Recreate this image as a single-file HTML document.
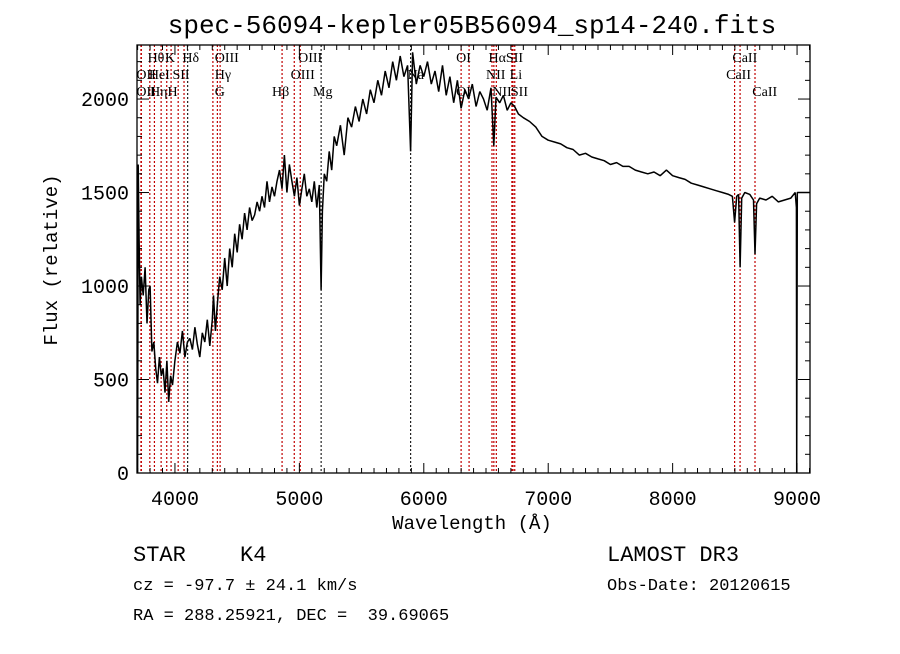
<!DOCTYPE html>
<html><head><meta charset="utf-8"><style>
body{margin:0;background:#fff;}
svg text{font-family:"Liberation Serif",serif;fill:#000;}
.mono{font-family:"Liberation Mono",monospace !important;}
</style></head><body>
<svg id="c" width="900" height="649" xmlns="http://www.w3.org/2000/svg">
<text class="mono" x="472" y="33" text-anchor="middle" font-size="26">spec-56094-kepler05B56094_sp14-240.fits</text>
<text class="mono" x="472" y="529" text-anchor="middle" font-size="19">Wavelength (Å)</text>
<text class="mono" x="57" y="260" text-anchor="middle" font-size="19" transform="rotate(-90 57 260)">Flux (relative)</text>
<text class="mono" x="133" y="561" font-size="22">STAR</text>
<text class="mono" x="240" y="561" font-size="22">K4</text>
<text class="mono" x="133" y="590" font-size="17">cz = -97.7 ± 24.1 km/s</text>
<text class="mono" x="133" y="620" font-size="17">RA = 288.25921, DEC =&#160; 39.69065</text>
<text class="mono" x="607" y="561" font-size="22">LAMOST DR3</text>
<text class="mono" x="607" y="590" font-size="17">Obs-Date: 20120615</text>
<g id="lines"></g><g id="spec"></g><g id="axes"></g>
</svg>
<script>
const xTicks=[4000,5000,6000,7000,8000,9000];
const yTicks=[0,500,1000,1500,2000];
const lineWaves=[3727,3730,3798,3835,3889,3934,3969,4026,4073,4102,4305,4341,4363,4861,4959,5007,5175,5894,6300,6364,6548,6563,6583,6708,6717,6731,8498,8542,8662];
const lineBlack=[0,0,0,0,0,0,0,0,0,1,0,0,0,0,0,0,1,1,0,0,0,0,0,0,0,0,0,0,0];
const labelText=["Hθ","K","Hδ","OIII","OIII","OI","HαSII","CaII","OII","HeI","SII","Hγ","OIII","Na","NII","Li","CaII","OII","Hη","H","G","Hβ","Mg","OI","NII","SII","CaII"];
const labelWave=[3780,3920,4060,4320,4990,6260,6520,8480,3690,3790,3980,4320,4930,5870,6500,6690,8430,3690,3800,3940,4320,4780,5110,6260,6550,6700,8640];
const labelRow=[0,0,0,0,0,0,0,0,1,1,1,1,1,1,1,1,1,2,2,2,2,2,2,2,2,2,2];
const wavesBlue=[3700,3705,3712,3720,3730,3745,3760,3775,3790,3800,
3815,3830,3845,3860,3875,3890,3905,3920,3935,3950,
3965,3980,4000,4020,4040,4060,4080,4100,4120,4140,
4160,4180,4200,4220,4240,4260,4280,4300,4310,4325,
4340,4360,4380,4400,4420,4440,4460,4480,4500,4520,
4540,4560,4580,4600,4620,4640,4660,4680,4700,4720,
4740,4760,4780,4800,4820,4840,4860,4880,4900,4920,
4940,4960,4980,5000,5020,5040,5060,5080,5100,5120,
5140,5160,5175,5185,5200,5220,5240,5260,5280,5300,
5330,5360,5390,5420,5450,5480,5510,5540,5570,5600,
5630,5660,5690,5720,5750,5780,5810,5840,5870,5894,
5910,5940,5970,6000,6030,6060,6090,6120,6150,6180,
6210,6240,6270,6300,6330,6360,6390,6420,6450,6480,
6510,6540,6563,6580,6610,6640,6670,6700,6730,6760];
const fluxBlue=[0,1650,1250,900,1050,950,1100,800,980,1000,
650,700,560,480,620,520,560,430,600,380,
520,470,600,700,640,760,620,700,720,660,
780,690,620,750,700,820,680,820,950,760,
900,1050,980,1150,1000,1200,1100,1280,1180,1330,
1250,1390,1300,1420,1350,1380,1450,1400,1480,1420,
1560,1450,1530,1480,1560,1620,1520,1700,1500,1650,
1560,1480,1580,1430,1520,1600,1480,1520,1450,1560,
1420,1540,980,1400,1600,1560,1720,1620,1800,1750,
1860,1700,1900,1850,1960,1880,2000,1920,2050,1980,
2100,2020,2150,2060,2200,2100,2230,2120,2180,1720,
2250,2080,2180,2120,2200,2080,2150,2040,2180,2020,
2120,1980,2100,1950,2050,2000,2080,1960,2040,2000,
1940,2060,1750,2010,1980,2020,1940,1980,1960,1920];
const wavesRed=[6800,6850,6900,6950,7000,7050,7100,7150,7200,7250,
7300,7350,7400,7450,7500,7550,7600,7650,7700,7750,
7800,7850,7900,7950,8000,8050,8100,8150,8200,8250,
8300,8350,8400,8450,8480,8498,8515,8530,8542,8555,
8580,8620,8650,8662,8675,8700,8750,8800,8850,8900,
8950,8985,8995,8997,9002,9110];
const fluxRed=[1900,1880,1850,1800,1780,1770,1760,1740,1730,1700,
1710,1690,1680,1670,1650,1660,1640,1640,1620,1610,
1600,1610,1590,1620,1590,1580,1570,1550,1540,1530,
1520,1510,1500,1490,1480,1340,1480,1490,1100,1470,
1500,1490,1460,1170,1440,1470,1460,1480,1450,1460,
1470,1500,1420,0,1500,1500];
const L=137,R=810,T=45,B=473;
const X=w=>L+(w-3695)*(R-L)/(9104-3695);
const Y=f=>B-f*(B-T)/2289;
const NS="http://www.w3.org/2000/svg";
function mk(tag,attrs,parent){const e=document.createElementNS(NS,tag);for(const k in attrs)e.setAttribute(k,attrs[k]);parent.appendChild(e);return e;}
const gl=document.getElementById('lines');
lineWaves.forEach((w,i)=>{
 const l=mk('line',{x1:X(w),x2:X(w),y1:T,y2:B,stroke:lineBlack[i]?'#222':'#c00000','stroke-width':1.2,'stroke-dasharray':'2,2'},gl);
 
 
});
labelText.forEach((t,i)=>{
 const e=mk('text',{x:X(labelWave[i]),y:T+17+labelRow[i]*17,'font-size':14},gl);
 e.textContent=t;
 
 
});
const gs=document.getElementById('spec');
const waves=wavesBlue.concat(wavesRed), flux=fluxBlue.concat(fluxRed);
const clipX=w=>Math.min(R,X(w));
let d='';waves.forEach((w,i)=>{d+=(i?'L':'M')+clipX(w).toFixed(1)+' '+Y(flux[i]).toFixed(1)+' ';});
const p=mk('path',{d:d,fill:'none',stroke:'#000','stroke-width':1.5,'stroke-linejoin':'bevel'},gs);


const ga=document.getElementById('axes');
const fr=mk('rect',{x:L,y:T,width:R-L,height:B-T,fill:'none',stroke:'#000','stroke-width':1.3},ga);


for(let w=3700;w<=9100;w+=100){const maj=w%1000===0;const h=maj?10:5;
 mk('line',{x1:X(w),x2:X(w),y1:B,y2:B-h,stroke:'#000'},ga);mk('line',{x1:X(w),x2:X(w),y1:T,y2:T+h,stroke:'#000'},ga);}
for(let f=0;f<=2200;f+=100){const maj=f%500===0;const h=maj?12:5;
 mk('line',{x1:L,x2:L+h,y1:Y(f),y2:Y(f),stroke:'#000'},ga);mk('line',{x1:R,x2:R-h,y1:Y(f),y2:Y(f),stroke:'#000'},ga);}
xTicks.forEach(w=>{const t=mk('text',{x:X(w),y:B+32,'text-anchor':'middle','font-size':20,'class':'mono'},ga);t.textContent=w;
 
 });
yTicks.forEach(f=>{const t=mk('text',{x:L-8,y:Y(f)+7,'text-anchor':'end','font-size':20,'class':'mono'},ga);t.textContent=f;
 
 });
</script>
</body></html>
